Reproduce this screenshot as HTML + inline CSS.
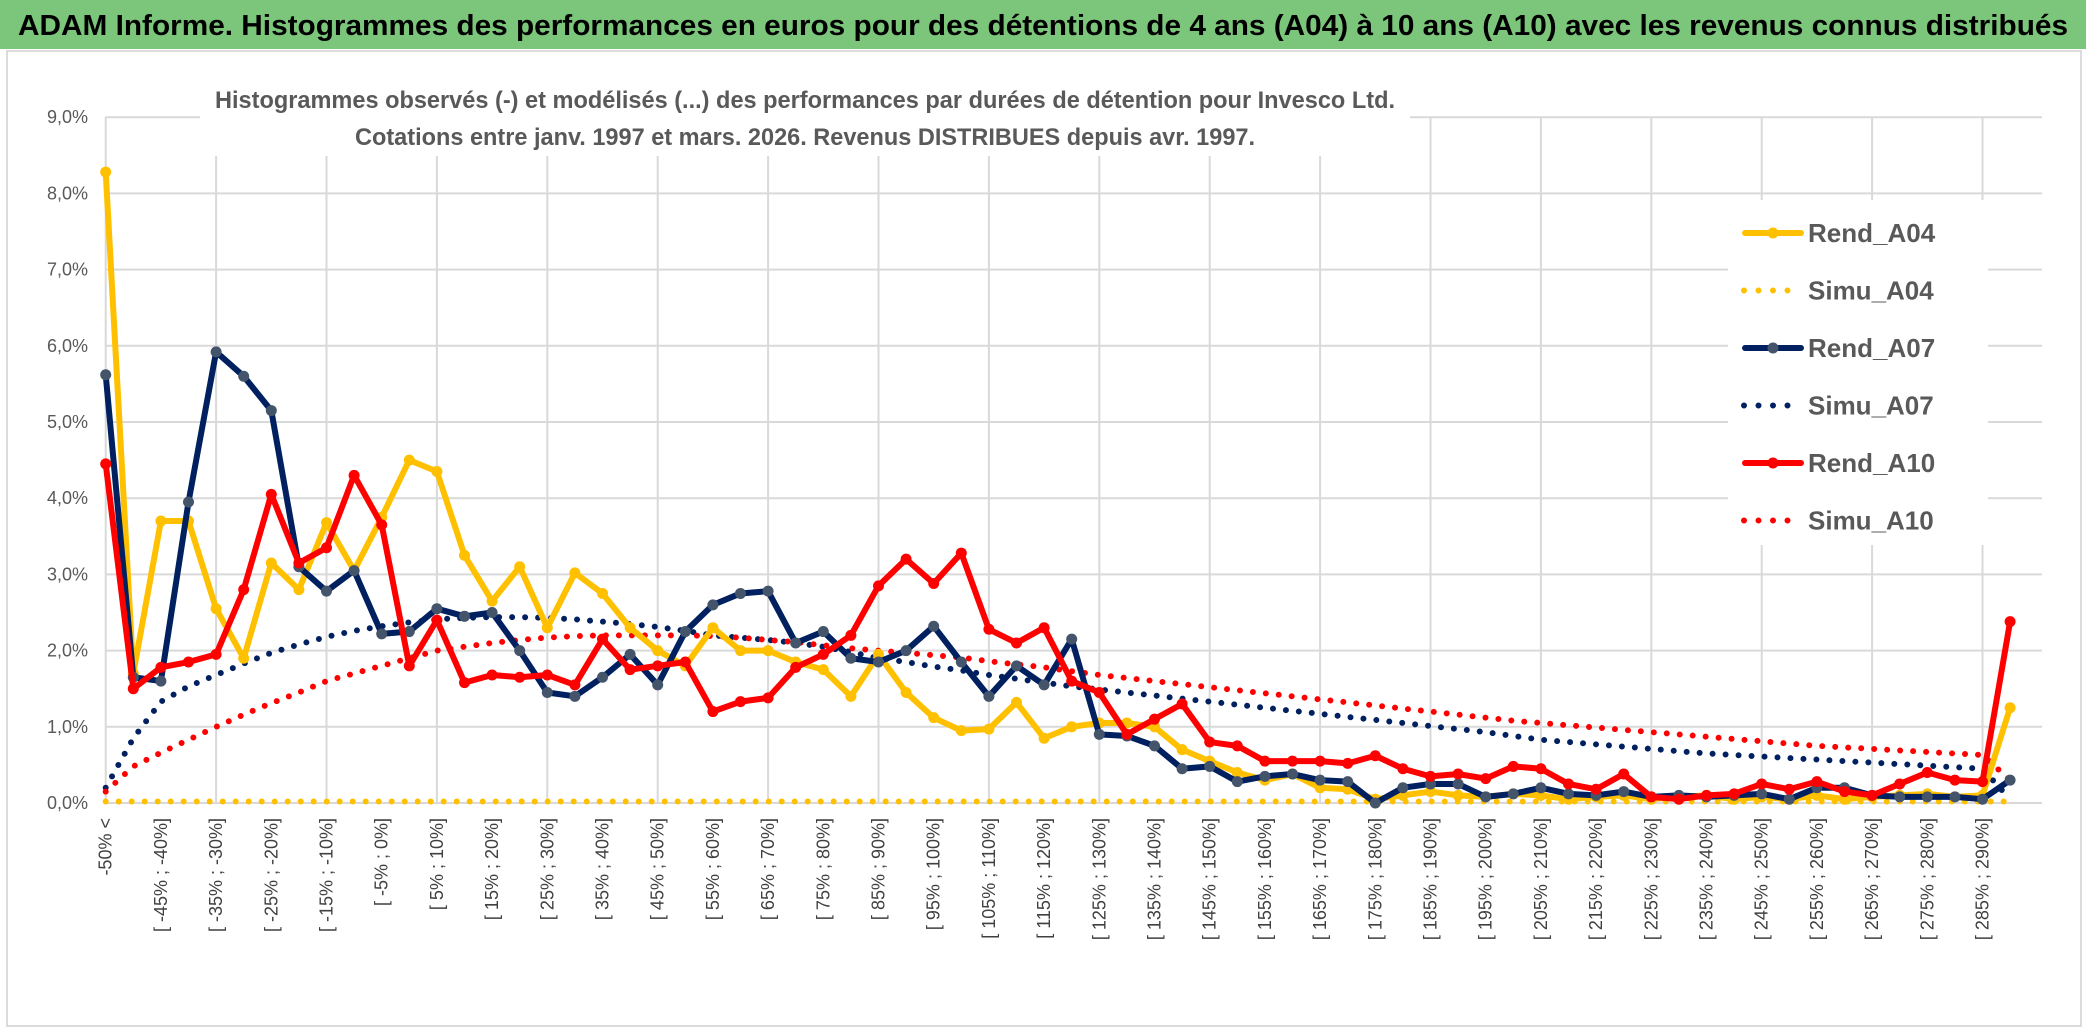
<!DOCTYPE html>
<html><head><meta charset="utf-8">
<style>
html,body{margin:0;padding:0;background:#fff;}
svg{display:block;}
text{font-family:"Liberation Sans Narrow","Liberation Sans",sans-serif;}
</style></head>
<body>
<svg id="chart" width="2086" height="1031" viewBox="0 0 2086 1031" xmlns="http://www.w3.org/2000/svg">
<rect x="0" y="0" width="2086" height="1031" fill="#fff"/>
<rect x="0" y="0" width="2086" height="49" fill="#7bc67a"/>
<text x="1043" y="35" text-anchor="middle" font-size="29" font-weight="bold" fill="#000" textLength="2050" lengthAdjust="spacingAndGlyphs">ADAM Informe. Histogrammes des performances en euros pour des détentions de 4 ans (A04) à 10 ans (A10) avec les revenus connus distribués</text>
<rect x="7" y="51" width="2074" height="975" fill="none" stroke="#d0d0d0" stroke-width="1.5"/>
<g id="grid"></g>
<g id="yaxis"></g>
<g id="xaxis"></g>
<rect x="200" y="80" width="1210" height="76" fill="#fff"/>
<text x="805" y="108" text-anchor="middle" font-size="24" font-weight="bold" fill="#595959" textLength="1180" lengthAdjust="spacingAndGlyphs">Histogrammes observés (-) et modélisés (...) des performances par durées de détention pour Invesco Ltd.</text>
<text x="805" y="145" text-anchor="middle" font-size="24" font-weight="bold" fill="#595959" textLength="900" lengthAdjust="spacingAndGlyphs">Cotations entre janv. 1997 et mars. 2026. Revenus DISTRIBUES depuis avr. 1997.</text>
<g id="series"></g>
<g id="legend"></g>
</svg>
<script>
const rendA04 = [8.28,1.7,3.7,3.7,2.55,1.9,3.15,2.8,3.68,3.05,3.75,4.5,4.35,3.25,2.65,3.1,2.3,3.02,2.75,2.3,2.0,1.8,2.3,2.0,2.0,1.85,1.75,1.4,1.95,1.45,1.12,0.95,0.97,1.32,0.85,1.0,1.05,1.05,1.0,0.7,0.55,0.4,0.3,0.38,0.2,0.18,0.05,0.1,0.15,0.1,0.08,0.12,0.1,0.05,0.08,0.1,0.05,0.08,0.1,0.05,0.08,0.05,0.1,0.05,0.08,0.1,0.12,0.08,0.1,1.25];
const rendA07 = [5.62,1.65,1.6,3.95,5.92,5.6,5.15,3.1,2.78,3.05,2.22,2.25,2.55,2.45,2.5,2.0,1.45,1.4,1.65,1.95,1.55,2.25,2.6,2.75,2.78,2.1,2.25,1.9,1.85,2.0,2.32,1.85,1.4,1.8,1.55,2.15,0.9,0.88,0.75,0.45,0.48,0.28,0.35,0.38,0.3,0.28,0.0,0.2,0.25,0.25,0.08,0.12,0.2,0.12,0.1,0.15,0.08,0.1,0.08,0.1,0.12,0.05,0.2,0.2,0.1,0.08,0.08,0.08,0.05,0.3];
const rendA10 = [4.45,1.5,1.78,1.85,1.95,2.8,4.05,3.15,3.35,4.3,3.65,1.8,2.4,1.58,1.68,1.65,1.68,1.55,2.15,1.75,1.8,1.85,1.2,1.33,1.38,1.78,1.95,2.2,2.85,3.2,2.88,3.28,2.28,2.1,2.3,1.6,1.45,0.9,1.1,1.3,0.8,0.75,0.55,0.55,0.55,0.52,0.62,0.45,0.35,0.38,0.32,0.48,0.45,0.25,0.18,0.38,0.08,0.05,0.1,0.12,0.25,0.18,0.28,0.15,0.1,0.25,0.4,0.3,0.28,2.38];
const simuA04 = [0.02,0.02,0.02,0.02,0.02,0.02,0.02,0.02,0.02,0.02,0.02,0.02,0.02,0.02,0.02,0.02,0.02,0.02,0.02,0.02,0.02,0.02,0.02,0.02,0.02,0.02,0.02,0.02,0.02,0.02,0.02,0.02,0.02,0.02,0.02,0.02,0.02,0.02,0.02,0.02,0.02,0.02,0.02,0.02,0.02,0.02,0.02,0.02,0.02,0.02,0.02,0.02,0.02,0.02,0.02,0.02,0.02,0.02,0.02,0.02,0.02,0.02,0.02,0.02,0.02,0.02,0.02,0.02,0.02,0.02];
const simuA07 = [0.2,0.85,1.33,1.53,1.68,1.83,1.97,2.08,2.18,2.26,2.32,2.37,2.41,2.43,2.44,2.44,2.43,2.41,2.38,2.35,2.31,2.26,2.2,2.17,2.14,2.1,2.05,1.98,1.9,1.85,1.79,1.74,1.68,1.63,1.58,1.53,1.49,1.45,1.41,1.37,1.33,1.29,1.25,1.21,1.17,1.13,1.09,1.05,1.01,0.97,0.93,0.88,0.83,0.8,0.77,0.74,0.71,0.68,0.65,0.63,0.61,0.59,0.57,0.55,0.53,0.51,0.49,0.47,0.45,0.05];
const simuA10 = [0.15,0.48,0.66,0.83,1.0,1.16,1.31,1.45,1.6,1.7,1.8,1.9,2.0,2.05,2.1,2.14,2.17,2.19,2.2,2.2,2.2,2.2,2.19,2.17,2.14,2.11,2.07,2.03,2.0,1.97,1.94,1.91,1.86,1.82,1.78,1.73,1.68,1.64,1.6,1.56,1.52,1.48,1.44,1.4,1.36,1.32,1.28,1.24,1.2,1.16,1.12,1.08,1.05,1.02,0.99,0.96,0.93,0.9,0.87,0.84,0.81,0.78,0.75,0.73,0.71,0.69,0.67,0.65,0.63,0.3];
const yTicks = [0,1,2,3,4,5,6,7,8,9];
const legendNames = ["Rend_A04","Simu_A04","Rend_A07","Simu_A07","Rend_A10","Simu_A10"];

const NS="http://www.w3.org/2000/svg";
const X0=105.7, DX=27.6, Y0=803, PX=76.2, RIGHT=2042, TOP=117;
const xs=i=>X0+i*DX, ys=v=>Y0-v*PX;
function mk(tag,attrs,parent){const e=document.createElementNS(NS,tag);for(const k in attrs)e.setAttribute(k,attrs[k]);parent.appendChild(e);return e;}
function catLabel(i){ if(i===0) return "-50% <"; const lo=-55+5*i, hi=lo+5; return "[ "+lo+"% ; "+hi+"%]"; }
const grid=document.getElementById('grid'), yax=document.getElementById('yaxis'), xax=document.getElementById('xaxis'), ser=document.getElementById('series'), leg=document.getElementById('legend');
yTicks.forEach(t=>{
  const l=mk('line',{x1:X0,x2:RIGHT,y1:ys(t),y2:ys(t),stroke:'#d9d9d9','stroke-width':2},grid);
  
  
  const tx=mk('text',{x:88,y:ys(t)+6,'text-anchor':'end','font-size':18,fill:'#595959'},yax);
  tx.textContent=t.toFixed(1).replace('.',',')+'%';
  
  
});
const n=rendA04.length;
for(let i=0;i<n;i+=4){
  const l=mk('line',{x1:xs(i),x2:xs(i),y1:TOP,y2:Y0,stroke:'#d9d9d9','stroke-width':2},grid);
  
  
}
for(let i=0;i<n;i+=2){
  const x=xs(i)+6, y=818;
  const tx=mk('text',{x:x,y:y,'text-anchor':'end','font-size':18,fill:'#404040',transform:`rotate(-90 ${x} ${y})`},xax);
  tx.textContent=catLabel(i);
  
  
}
function dotted(data,color,name){
  const p=mk('polyline',{points:data.map((v,i)=>xs(i)+','+ys(v)).join(' '),fill:'none',stroke:color,'stroke-width':6,'stroke-linecap':'round','stroke-dasharray':'0 13'},ser);
  
  
}
function solid(data,color,mcolor,name){
  const g=mk('g',{},ser);
  
  
  mk('polyline',{points:data.map((v,i)=>xs(i)+','+ys(v)).join(' '),fill:'none',stroke:color,'stroke-width':6,'stroke-linejoin':'round'},g);
  data.forEach((v,i)=>{
    const c=mk('circle',{cx:xs(i),cy:ys(v),r:5.5,fill:mcolor},g);
    
    
  });
}
dotted(simuA04,'#ffc000','simu-a04-line');
dotted(simuA07,'#002060','simu-a07-line');
dotted(simuA10,'#ff0000','simu-a10-line');
solid(rendA04,'#ffc000','#ffc000','rend-a04-line');
solid(rendA07,'#002060','#44546a','rend-a07-line');
solid(rendA10,'#ff0000','#ff0000','rend-a10-line');
// legend
mk('rect',{x:1728,y:200,width:260,height:345,fill:'#fff'},leg);
const lc=['#ffc000','#ffc000','#002060','#002060','#ff0000','#ff0000'];
const mc=['#ffc000',null,'#44546a',null,'#ff0000',null];
legendNames.forEach((nm,k)=>{
  const y=233+k*57.5;
  const g=mk('g',{},leg);
  
  
  if(mc[k]){
    mk('line',{x1:1745,x2:1801,y1:y,y2:y,stroke:lc[k],'stroke-width':6,'stroke-linecap':'round'},g);
    mk('circle',{cx:1773,cy:y,r:5.5,fill:mc[k]},g);
  } else {
    mk('line',{x1:1744,x2:1800,y1:y,y2:y,stroke:lc[k],'stroke-width':6,'stroke-linecap':'round','stroke-dasharray':'0 14.5'},g);
  }
  const t=mk('text',{x:1808,y:y+9,'font-size':26,'font-weight':'bold',fill:'#595959'},g);
  t.textContent=nm;
});
</script>
</body></html>
